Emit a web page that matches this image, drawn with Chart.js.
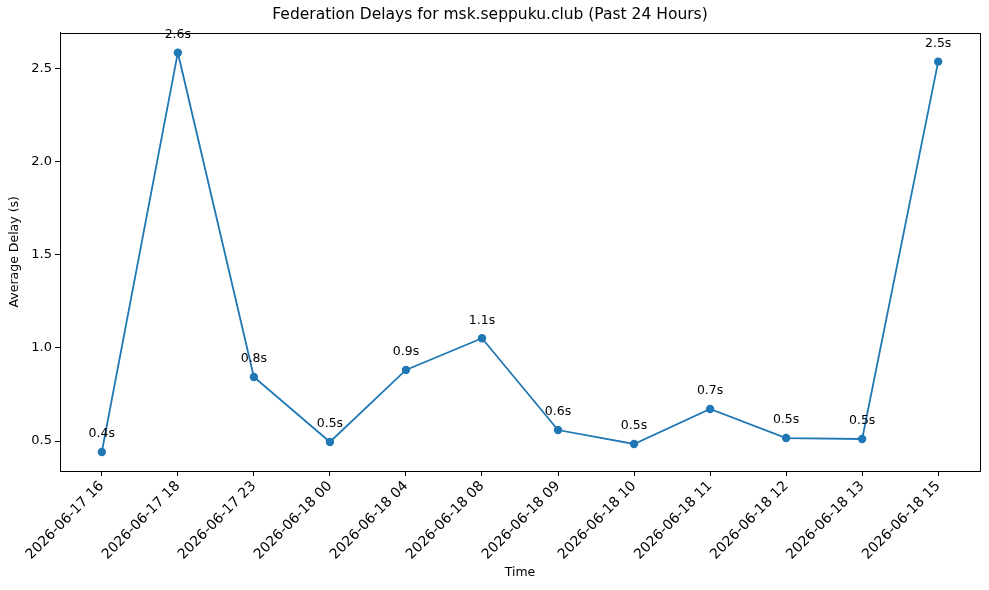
<!DOCTYPE html>
<html>
<head>
<meta charset="utf-8">
<script src="https://cdn.jsdelivr.net/npm/chart.js@4/dist/chart.umd.min.js"></script>
<style>
  html, body { margin: 0; padding: 0; background: #fff; }
</style>
</head>
<body>
<canvas id="delayChart" width="989" height="590"></canvas>
<script>
const timeLabels = [
    "2026-06-17 16", "2026-06-17 18", "2026-06-17 23", "2026-06-18 00",
    "2026-06-18 04", "2026-06-18 08", "2026-06-18 09", "2026-06-18 10",
    "2026-06-18 11", "2026-06-18 12", "2026-06-18 13", "2026-06-18 15",
];
const avgDelays = [0.441, 2.586, 0.844, 0.495, 0.882, 1.052, 0.559, 0.484, 0.672, 0.516, 0.511, 2.538];
const yTicks = [0.5, 1.0, 1.5, 2.0, 2.5];

const FONT = "'DejaVu Sans', sans-serif";
const BLUE = "#1f77b4";

// box around the plot area, like matplotlib spines
const frame = {
    id: "frame",
    afterDraw(chart) {
        const { ctx, chartArea: a } = chart;
        ctx.save();
        ctx.strokeStyle = "#000";
        ctx.lineWidth = 1;
        ctx.strokeRect(Math.round(a.left) + 0.5, Math.round(a.top) + 0.5,
            Math.round(a.right - a.left), Math.round(a.bottom - a.top));
        ctx.restore();
    },
};

// "0.4s" style annotation above each point
const pointLabels = {
    id: "pointLabels",
    afterDatasetsDraw(chart) {
        const { ctx } = chart;
        const meta = chart.getDatasetMeta(0);
        ctx.save();
        ctx.font = `12.5px ${FONT}`;
        ctx.fillStyle = "#000";
        ctx.textAlign = "center";
        ctx.textBaseline = "middle";
        meta.data.forEach((pt, i) => {
            ctx.fillText(`${avgDelays[i].toFixed(1)}s`, pt.x, pt.y - 18);
        });
        ctx.restore();
    },
};

new Chart(document.getElementById("delayChart"), {
    type: "line",
    data: {
        datasets: [{
            data: avgDelays.map((v, i) => ({ x: i, y: v })),
            borderColor: BLUE,
            backgroundColor: BLUE,
            borderWidth: 1.8,
            pointRadius: 4.2,
            pointBackgroundColor: BLUE,
            pointBorderWidth: 0,
            tension: 0,
        }],
    },
    options: {
        responsive: false,
        animation: false,
        layout: { padding: { top: 6, right: 9, bottom: 0, left: 0 } },
        plugins: {
            legend: { display: false },
            tooltip: { enabled: false },
            title: {
                display: true,
                text: "Federation Delays for msk.seppuku.club (Past 24 Hours)",
                color: "#000",
                font: { family: FONT, size: 15.5, weight: "normal" },
                padding: { top: 0, bottom: 8 },
            },
        },
        scales: {
            x: {
                type: "linear",
                min: -0.55,
                max: 11.55,
                afterBuildTicks: (scale) => { scale.ticks = timeLabels.map((_, i) => ({ value: i })); },
                afterFit: (scale) => { scale.height = 119; },
                ticks: {
                    callback: (v) => timeLabels[v],
                    minRotation: 45,
                    maxRotation: 45,
                    color: "#000",
                    padding: 2,
                    font: { family: FONT, size: 14 },
                },
                grid: { drawOnChartArea: false, drawTicks: true, tickLength: 5, color: "#000" },
                border: { display: true, color: "#000" },
                title: {
                    display: true,
                    text: "Time",
                    color: "#000",
                    font: { family: FONT, size: 12.5 },
                    padding: { top: 4, bottom: 10 },
                },
            },
            y: {
                min: 0.339,
                max: 2.694,
                afterBuildTicks: (scale) => { scale.ticks = yTicks.map((v) => ({ value: v })); },
                afterFit: (scale) => { scale.width = 60; },
                ticks: {
                    callback: (v) => v.toFixed(1),
                    color: "#000",
                    padding: 3,
                    font: { family: FONT, size: 13 },
                },
                grid: { drawOnChartArea: false, drawTicks: true, tickLength: 5, color: "#000" },
                border: { display: true, color: "#000" },
                title: {
                    display: true,
                    text: "Average Delay (s)",
                    color: "#000",
                    font: { family: FONT, size: 12.5 },
                    padding: { top: 7, bottom: 2 },
                },
            },
        },
    },
    plugins: [frame, pointLabels],
});
</script>
</body>
</html>
